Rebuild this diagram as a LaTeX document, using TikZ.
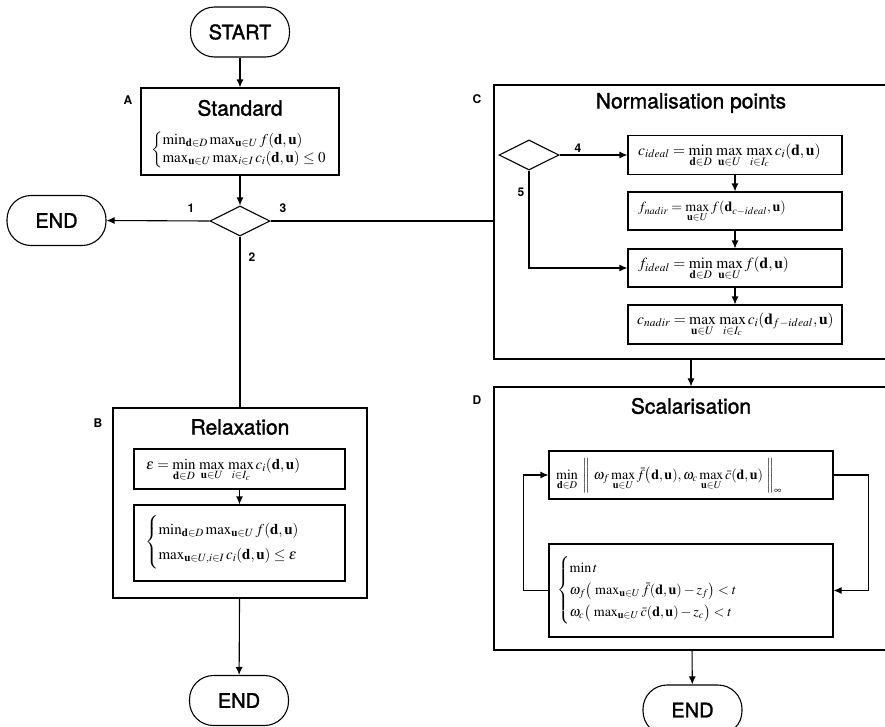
\documentclass[tikz,border=0pt]{standalone}
\usepackage{amsmath}
\usepackage{mathptmx}
\usepackage[no-math]{fontspec}
\setsansfont{TeX Gyre Heros}
\newfontfamily\medsans[FakeBold=1.5]{TeX Gyre Heros}
\usetikzlibrary{arrows.meta,shapes.geometric}
\tikzset{
  box/.style={draw, line width=1.1pt, inner sep=0pt},
  pill/.style={draw, line width=1.1pt, rounded corners=24pt, inner sep=0pt, minimum width=99pt, minimum height=50pt, font=\medsans\fontsize{20}{24}\selectfont},
  dia/.style={diamond, draw, line width=1.1pt, inner sep=0pt, minimum width=60pt, minimum height=30pt},
  arr/.style={line width=1.1pt, -{Latex[length=8pt,width=7pt]}},
  ln/.style={line width=1.1pt},
  lab/.style={font=\sffamily\bfseries\fontsize{12}{14}\selectfont, inner sep=0pt},
  ttl/.style={font=\medsans\fontsize{21}{25}\selectfont, inner sep=0pt},
  fm/.style={font=\fontsize{14}{17}\selectfont, inner sep=0pt},
  fmb/.style={font=\fontsize{15}{18}\selectfont, inner sep=0pt},
  fmc/.style={font=\fontsize{15.5}{18}\selectfont, inner sep=0pt}
}
\begin{document}
\begin{tikzpicture}[x=1pt,y=-1pt]
\useasboundingbox (0,0) rectangle (885,726);
\clip (0,0) rectangle (885,726);
% START and A
\node[pill] (start) at (240,32) {START};
\node[box, minimum width=198pt, minimum height=87pt] (A) at (240,131.5) {};
\node[ttl] (Atitle) at (240,108) {Standard};
\node[fmb] (Af) at (239,150) {$\left\{\begin{array}{@{}l@{}}
\min_{\mathbf{d}\in D}\max_{\mathbf{u}\in U} f(\mathbf{d},\mathbf{u})\\
\max_{\mathbf{u}\in U}\max_{i\in I} c_i(\mathbf{d},\mathbf{u}) \le 0
\end{array}\right.$};
\node[lab] (Alab) at (128,100) {A};
% decision 1
\node[dia] (d1) at (240,221) {};
\node[pill] (endL) at (56.5,220.5) {END};
\node[lab] (l1) at (191,208) {1};
\node[lab] (l3) at (283,208) {3};
\node[lab] (l2) at (252,257) {2};
% B
\node[box, minimum width=254pt, minimum height=190pt] (B) at (240,503) {};
\node[ttl] (Btitle) at (240,427) {Relaxation};
\node[lab] (Blab) at (98,423) {B};
\node[box, minimum width=211pt, minimum height=40pt] (b1) at (239.5,469) {};
\node[fmb, anchor=west] (b1f) at (146,470) {$\epsilon = \min\limits_{\mathbf{d}\in D}\,\max\limits_{\mathbf{u}\in U}\,\max\limits_{i\in I_c} c_i(\mathbf{d},\mathbf{u})$};
\node[box, minimum width=211pt, minimum height=76pt] (b2) at (239.5,543) {};
{\renewcommand{\arraystretch}{1.4}
\node[fmb, anchor=west] (b2f) at (145,542) {$\left\{\begin{array}{@{}l@{}}
\min_{\mathbf{d}\in D}\max_{\mathbf{u}\in U} f(\mathbf{d},\mathbf{u})\\
\max_{\mathbf{u}\in U, i\in I} c_i(\mathbf{d},\mathbf{u}) \le \epsilon
\end{array}\right.$};}
\node[pill] (endB) at (239,700.5) {END};
% C
\node[box, minimum width=394pt, minimum height=274pt] (C) at (691,222) {};
\node[ttl] (Ctitle) at (691,103) {Normalisation points};
\node[lab] (Clab) at (477,99) {C};
\node[dia] (d2) at (529,155) {};
\node[lab] (l4) at (578,148) {4};
\node[lab] (l5) at (521,192) {5};
\node[box, minimum width=214pt, minimum height=39pt] (c1) at (735,155) {};
\node[fmc, anchor=west] (c1f) at (638,156) {$c_{ideal} = \min\limits_{\mathbf{d}\in D}\,\max\limits_{\mathbf{u}\in U}\,\max\limits_{i\in I_c} c_i(\mathbf{d},\mathbf{u})$};
\node[box, minimum width=214pt, minimum height=38pt] (c2) at (735,211) {};
\node[fm, anchor=west] (c2f) at (638,212) {$f_{nadir} = \max\limits_{\mathbf{u}\in U} f(\mathbf{d}_{c-ideal},\mathbf{u})$};
\node[box, minimum width=214pt, minimum height=38pt] (c3) at (735,268) {};
\node[fmc, anchor=west] (c3f) at (638,269) {$f_{ideal} = \min\limits_{\mathbf{d}\in D}\,\max\limits_{\mathbf{u}\in U} f(\mathbf{d},\mathbf{u})$};
\node[box, minimum width=214pt, minimum height=39pt] (c4) at (735,324.5) {};
\node[fmc, anchor=west] (c4f) at (637,325) {$c_{nadir} = \max\limits_{\mathbf{u}\in U}\,\max\limits_{i\in I_c} c_i(\mathbf{d}_{f-ideal},\mathbf{u})$};
% D
\node[box, minimum width=394pt, minimum height=263pt] (D) at (691,518.5) {};
\node[ttl] (Dtitle) at (691,406) {Scalarisation};
\node[lab] (Dlab) at (477,400) {D};
\node[box, minimum width=284pt, minimum height=48pt] (s1) at (691,475) {};
\node[fm, anchor=west] (s1f) at (556,476) {$\min\limits_{\mathbf{d}\in D}\;\left\|\;\omega_f\max\limits_{\mathbf{u}\in U}\bar f\big(\mathbf{d},\mathbf{u}),\omega_c\max\limits_{\mathbf{u}\in U}\bar c(\mathbf{d},\mathbf{u})\;\right\|_{\infty}$};
\node[box, minimum width=284pt, minimum height=93pt] (s2) at (691,590.5) {};
{\renewcommand{\arraystretch}{1.3}
\node[fm, anchor=west] (s2f) at (557,590) {$\left\{\begin{array}{@{}l@{}}
\min t\\
\omega_f\big(\,\max_{\mathbf{u}\in U}\bar f(\mathbf{d},\mathbf{u})-z_f\big) < t\\
\omega_c\big(\,\max_{\mathbf{u}\in U}\bar c(\mathbf{d},\mathbf{u})-z_c\big) < t
\end{array}\right.$};}
\node[pill] (endR) at (692.5,710) {END};
% connectors
\draw[arr] (start) -- (A);
\draw[arr] (A) -- (d1.north);
\draw[arr] (d1.west) -- (endL.east);
\draw[ln] (d1.east) -- (d1.east -| C.west);
\draw[ln] (d1.south) -- (B.north);
\draw[arr] (b1) -- (b2);
\draw[arr] (B) -- (endB);
\draw[arr] (d2.east) -- (c1.west);
\draw[arr] (d2.south) |- (c3.west);
\draw[arr] (c1) -- (c2);
\draw[arr] (c2) -- (c3);
\draw[arr] (c3) -- (c4);
\draw[arr] (C) -- (D);
\draw[arr] (s1.east) -- ++(35,0) |- (s2.east);
\draw[arr] (s2.west) -- ++(-25,0) |- (s1.west);
\draw[arr] (D) -- (endR);
\end{tikzpicture}
\end{document}
